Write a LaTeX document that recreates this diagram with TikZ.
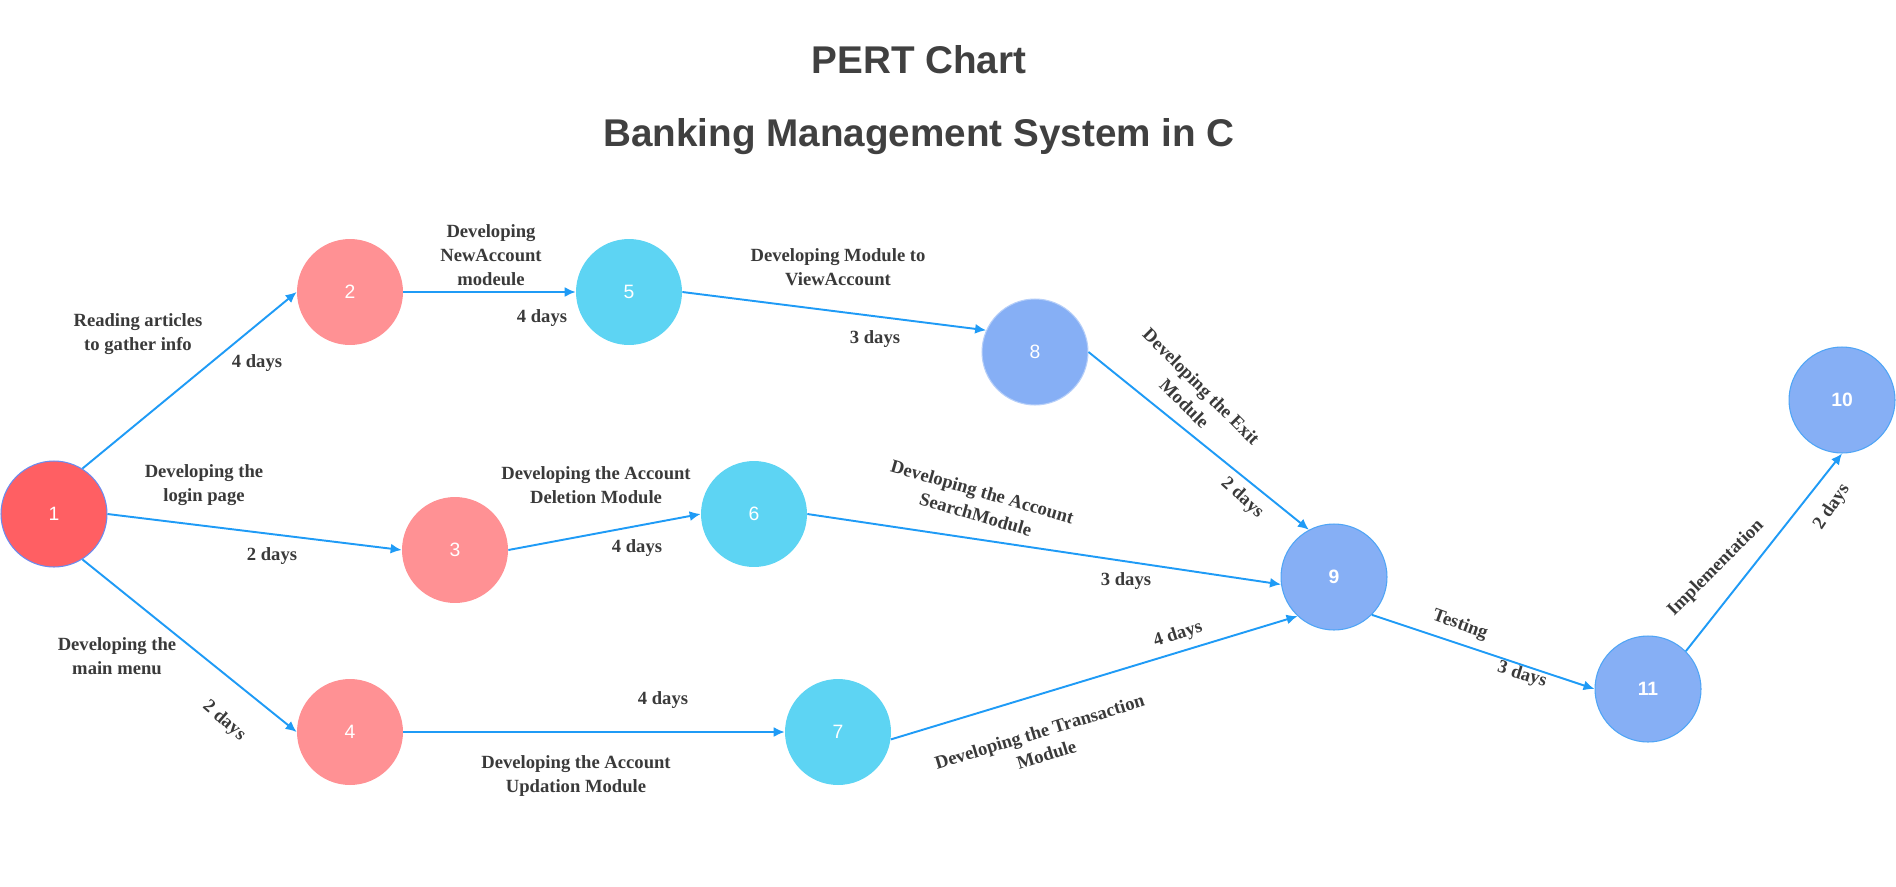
\documentclass[tikz,border=0pt]{standalone}
\usepackage{fontspec}
\setmainfont{Liberation Serif}
\setsansfont{Liberation Sans}
\usetikzlibrary{arrows.meta}

\definecolor{redA}{HTML}{FF5F63}
\definecolor{redB}{HTML}{FF9194}
\definecolor{cyanA}{HTML}{5DD4F3}
\definecolor{blueA}{HTML}{86AFF5}
\definecolor{ringA}{HTML}{6A8CF0}
\definecolor{ringB}{HTML}{4FA5F6}
\definecolor{edgeblue}{HTML}{1F9BF6}
\definecolor{txtgray}{HTML}{3A3A3A}
\definecolor{titlegray}{HTML}{404040}

\begin{document}
\begin{tikzpicture}[x=0.02cm,y=-0.02cm,
  event/.style={circle,minimum size=2.12cm,inner sep=0pt,text=white,
    font=\sffamily\fontsize{11}{13}\selectfont},
  task/.style={text=txtgray,align=center,
    font=\bfseries\fontsize{10.6}{13.6}\selectfont},
  link/.style={edgeblue,line width=1.1pt,-{Latex[length=0.22cm,width=0.2cm]}}]
  \useasboundingbox (0,0) rectangle (1896,886);
  % titles
  \node[font=\sffamily\bfseries\fontsize{22}{26}\selectfont,text=titlegray] (title) at (919,60) {PERT Chart};
  \node[font=\sffamily\bfseries\fontsize{22}{26}\selectfont,text=titlegray] (subtitle) at (919,137) {Banking Management System in C};
  % events
  \node[event,fill=redA,draw=ringA,line width=0.6pt] (n1) at (54,514) {1};
  \foreach \n/\x/\y in {2/350/292,3/455/550,4/350/732}{
    \node[event,fill=redB] (n\n) at (\x,\y) {\n};}
  \foreach \n/\x/\y in {5/629/292,6/754/514,7/838/732}{
    \node[event,fill=cyanA] (n\n) at (\x,\y) {\n};}
  \node[event,fill=blueA,draw=blueA!60!white,line width=0.6pt] (n8) at (1035,352) {8};
  \foreach \n/\x/\y in {9/1334/577,10/1842/400,11/1648/689}{
    \node[event,fill=blueA,draw=ringB,line width=0.6pt,font=\sffamily\bfseries\fontsize{11}{13}\selectfont] (n\n) at (\x,\y) {\n};}
  % activities
  \draw[link] (n1.58) -- (n2.west);
  \draw[link] (n1.east) -- (n3.west);
  \draw[link] (n1.-58) -- (n4.west);
  \foreach \a/\b in {2/5,3/6,4/7}{
    \draw[link] (n\a.east) -- (n\b.west);}
  \draw[link] (n5.east) -- (n8.156);
  \draw[link] (n6.east) -- (n9.188);
  \draw[link] (n7.-8) -- (n9.227);
  \draw[link] (n8.east) -- (n9.118);
  \draw[link] (n9.-45) -- (n11.west);
  \draw[link] (n11.45) -- (n10.south);
  % labels
  \node[task] (t12) at (138,334) {Reading articles\\to gather info};
  \node[task] (d12) at (257,363) {4 days};
  \node[task] (t25) at (491,255) {Developing\\NewAccount\\modeule};
  \node[task] (d25) at (542,318) {4 days};
  \node[task] (t13) at (204,485) {Developing the\\login page};
  \node[task] (d13) at (272,556) {2 days};
  \node[task] (t36) at (596,485) {Developing the Account\\Deletion Module};
  \node[task] (d36) at (637,548) {4 days};
  \node[task] (t58) at (838,267) {Developing Module to\\ViewAccount};
  \node[task] (d58) at (875,339) {3 days};
  \node[task,rotate=-45] (t89) at (1193,395) {Developing the Exit\\Module};
  \node[task,rotate=-42] (d89) at (1242,498) {2 days};
  \node[task,rotate=-16] (t69) at (979,503) {Developing the Account\\SearchModule};
  \node[task] (d69) at (1126,581) {3 days};
  \node[task,rotate=18] (d79) at (1178,635) {4 days};
  \node[task,rotate=17] (t79) at (1043,743) {Developing the Transaction\\Module};
  \node[task] (t14) at (117,656) {Developing the\\main menu};
  \node[task,rotate=-41] (d14) at (224,721) {2 days};
  \node[task] (d47) at (663,700) {4 days};
  \node[task] (t47) at (576,776) {Developing the Account\\Updation Module};
  \node[task,rotate=-20] (t911) at (1460,625) {Testing};
  \node[task,rotate=-17] (d911) at (1522,675) {3 days};
  \node[task,rotate=45] (t1110) at (1716,568) {Implementation};
  \node[task,rotate=56] (d1110) at (1832,507) {2 days};
\end{tikzpicture}
\end{document}
